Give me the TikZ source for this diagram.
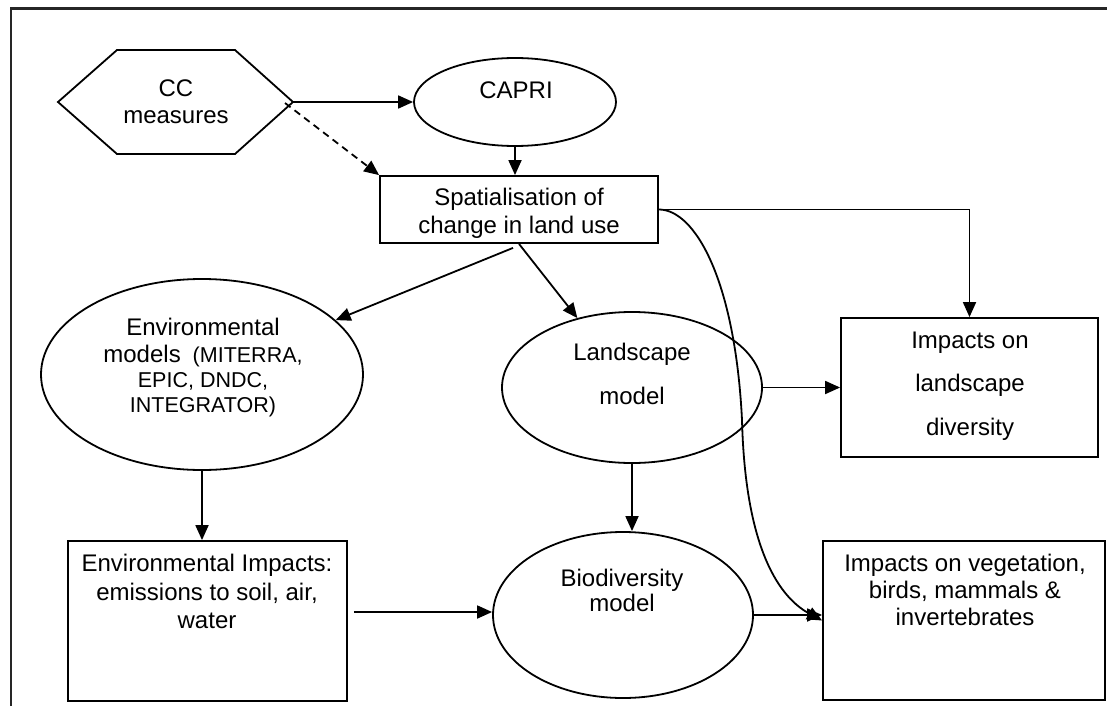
\documentclass[tikz,border=0pt]{standalone}
\usepackage{fontspec}
\setmainfont{Liberation Sans}
\usetikzlibrary{arrows.meta,shapes.geometric}
\begin{document}
\begin{tikzpicture}[x=1pt,y=-1pt,
  shp/.style={draw, line width=1.8pt, inner sep=0pt},
  oval/.style={shp, ellipse},
  box/.style={shp, rectangle},
  lbl/.style={inner sep=0pt, align=center},
  arr/.style={line width=1.8pt, -{Triangle[length=15pt,width=13pt]}},
]
\useasboundingbox (0,0) rectangle (1107,706);

% outer frame (left and top edges)
\draw[line width=2.2pt, black!85] (10.7,706) -- (10.7,8.5) -- (1107,8.5);

% CC measures hexagon
\draw[line width=1.8pt] (58,102) -- (117,50) -- (235,50) -- (293,102) -- (235,154) -- (117,154) -- cycle;
\coordinate (ccTip) at (293,102);
\node[lbl, font=\fontsize{24}{27}\selectfont] (ccT) at (176,101.5) {CC\\measures};

% shapes
\node[oval, minimum width=202pt, minimum height=88pt] (capri) at (515,102) {};
\node[box, minimum width=278pt, minimum height=67pt] (spat) at (519,209.5) {};
\node[oval, minimum width=322pt, minimum height=191pt] (envmod) at (202,374.5) {};
\node[box, minimum width=279pt, minimum height=160pt] (envimp) at (207.5,621) {};
\node[oval, minimum width=260pt, minimum height=151pt] (land) at (632,387.5) {};
\node[box, minimum width=257pt, minimum height=139pt] (impl) at (969.5,387.5) {};
\node[oval, minimum width=260pt, minimum height=166pt] (bio) at (623,615) {};
\node[box, minimum width=282pt, minimum height=159pt] (veg) at (964,620.5) {};

% texts
\node[lbl, font=\fontsize{24}{28}\selectfont] (capriT) at (516,90) {CAPRI};
\node[lbl, font=\fontsize{24}{28}\selectfont] (spatT) at (519,213.4) {Spatialisation of\\change in land use};
\node[lbl, font=\fontsize{21.5}{25}\selectfont] (envmodT) at (203,368)
  {{\fontsize{24}{28}\selectfont Environmental}\\[2pt]{\fontsize{24}{28}\selectfont models}\ \ (MITERRA,\\EPIC, DNDC,\\INTEGRATOR)};
\node[lbl, font=\fontsize{24}{28.5}\selectfont] (envimpT) at (207,591.5) {Environmental Impacts:\\emissions to soil, air,\\water};
\node[lbl, font=\fontsize{24}{44}\selectfont] (landT) at (632,374) {Landscape\\model};
\node[lbl, font=\fontsize{24}{43.5}\selectfont] (implT) at (970,386) {Impacts on\\landscape\\diversity};
\node[lbl, font=\fontsize{24}{25}\selectfont] (bioT) at (622,590.5) {Biodiversity\\model};
\node[lbl, font=\fontsize{24}{27}\selectfont] (vegT) at (965,590) {Impacts on vegetation,\\birds, mammals \&\\invertebrates};

% connectors
\draw[arr] (ccTip) -- (capri.west);
\draw[arr, dashed, dash pattern=on 7pt off 5pt] ([xshift=-8pt,yshift=-1pt]ccTip) -- (spat.north west);
\draw[arr] (capri) -- (capri |- spat.north);
\draw[arr] (spat.east) -| (impl.north);
\coordinate (bend) at (742,420);
\draw[arr] (spat.east) .. controls (695,209.5) and (735,280) .. (bend)
  .. controls (745,540) and (775,595) .. (veg.west);
\draw[arr] ([xshift=-6pt,yshift=-4pt]spat.south) -- (envmod);
\draw[arr] (spat.south) -- (land);
\draw[arr] (envmod) -- (envmod |- envimp.north);
\coordinate (eiOut) at ([xshift=6pt,yshift=9pt]envimp.east);
\draw[arr] (eiOut) -- (eiOut -| bio.west);
\draw[arr] (land.east) -- (land.east -| impl.west);
\draw[arr] (land.south) -- (land.south |- bio.north);
\draw[arr] (bio.east) -- (bio.east -| veg.west);
\end{tikzpicture}
\end{document}
